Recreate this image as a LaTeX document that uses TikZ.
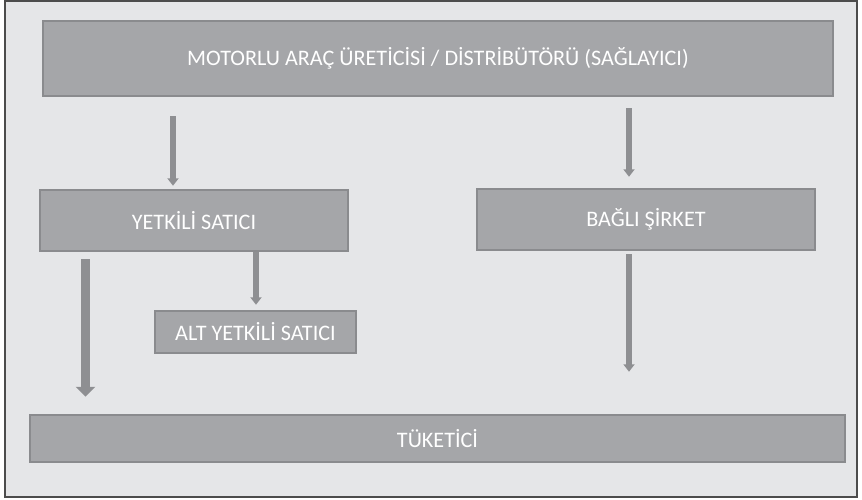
\documentclass[tikz,border=0pt]{standalone}
\usepackage{fontspec}
\setmainfont{Carlito}
\usetikzlibrary{arrows.meta}
\definecolor{zemin}{HTML}{E5E6E8}
\definecolor{kutu}{HTML}{A5A6A9}
\definecolor{kenar}{HTML}{8A8B8E}
\definecolor{ok}{HTML}{8E8F92}
\tikzset{
	kutu/.style={draw=kenar, line width=1.4pt, fill=kutu, text=white, font=\fontsize{12.6}{15}\selectfont, inner sep=0pt},
	ince/.style={draw=ok, line width=3.2pt, -{Triangle[width=0.22cm, length=0.15cm]}},
	kalin/.style={draw=ok, line width=5.4pt, -{Triangle[width=0.38cm, length=0.2cm]}}
}

\begin{document}
\begin{tikzpicture}
				\useasboundingbox (0,0) rectangle (17.24,10);
				\draw[fill=zemin, draw=black!70, line width=1pt] (0.1,0.06) rectangle (17.14,9.98);
				
				\node[kutu, minimum width=15.8cm, minimum height=1.5cm] (uretici) at (8.76,8.83) {MOTORLU ARAÇ ÜRETİCİSİ / DİSTRİBÜTÖRÜ (SAĞLAYICI)};
				\node[kutu, minimum width=6.16cm, minimum height=1.22cm] (yetkili) at (3.88,5.59) {YETKİLİ SATICI};
				\node[kutu, minimum width=4.02cm, minimum height=0.84cm] (alt) at (5.11,3.36) {ALT YETKİLİ SATICI};
				\node[kutu, minimum width=6.76cm, minimum height=1.22cm] (bagli) at (12.92,5.61) {BAĞLI ŞİRKET};
				\node[kutu, minimum width=16.3cm, minimum height=0.94cm] (tuketici) at (8.75,1.23) {TÜKETİCİ};
				
				\draw[ince, shorten <=0.38cm, shorten >=0.06cm] (3.46,0 |- uretici.south) -- (3.46,0 |- yetkili.north);
				\draw[ince, shorten <=0.22cm, shorten >=0.22cm] (12.58,0 |- uretici.south) -- (12.58,0 |- bagli.north);
				\draw[ince, shorten >=0.1cm] (5.12,0 |- yetkili.south) -- (5.12,0 |- alt.north);
				\draw[kalin, shorten <=0.14cm, shorten >=0.34cm] (1.71,0 |- yetkili.south) -- (1.71,0 |- tuketici.north);
				\draw[ince, shorten <=0.06cm, shorten >=0.84cm] (12.58,0 |- bagli.south) -- (12.58,0 |- tuketici.north);
			\end{tikzpicture}
\end{document}
